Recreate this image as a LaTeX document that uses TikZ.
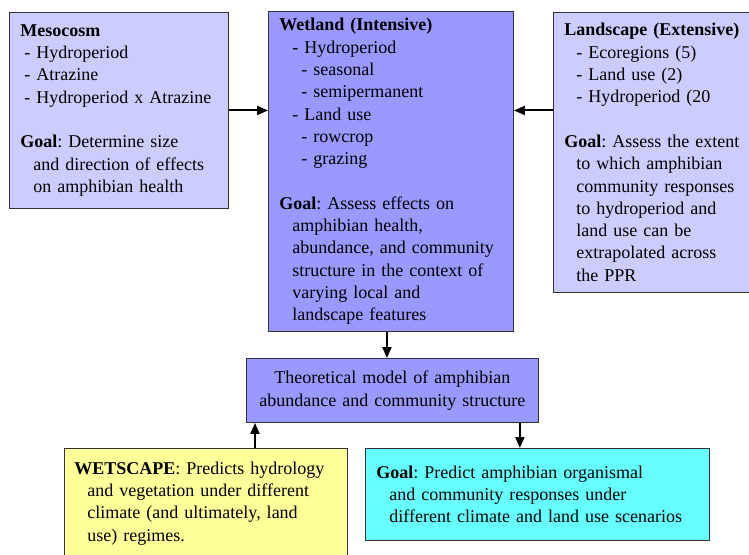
\documentclass[tikz,border=0pt]{standalone}
\usepackage{fontspec}
\setmainfont{Liberation Serif}
\usetikzlibrary{arrows.meta}
\definecolor{paleblue}{HTML}{CCCCFF}
\definecolor{midblue}{HTML}{9999FF}
\definecolor{paleyellow}{HTML}{FFFF99}
\definecolor{brightcyan}{HTML}{66FFFF}
\tikzset{
    box/.style={draw=black!80, line width=0.9pt, align=left, inner xsep=11pt, inner ysep=0pt,
        anchor=north west, font=\fontsize{18}{22.3}\selectfont\frenchspacing},
    link/.style={line width=2pt, -{Triangle[length=11pt,width=9pt]}}
}

\begin{document}
\begin{tikzpicture}[x=1pt, y=-1pt]
    \useasboundingbox (0,0) rectangle (749,554);
    \node[box, fill=paleblue, text width=197pt, minimum height=196pt] (meso) at (9,12) {
        \textbf{Mesocosm}\\
        \hspace*{4pt}- Hydroperiod\\
        \hspace*{4pt}- Atrazine\\
        \hspace*{4pt}- Hydroperiod x Atrazine\\[22.3pt]
        \textbf{Goal}: Determine size\\
        \hspace*{13pt}and direction of effects\\
        \hspace*{13pt}on amphibian health};
    \node[box, fill=midblue, text width=223pt, minimum height=320pt] (wet) at (268,11) {
        \textbf{Wetland (Intensive)}\\
        \hspace*{13pt}- Hydroperiod\\
        \hspace*{22pt}- seasonal\\
        \hspace*{22pt}- semipermanent\\
        \hspace*{13pt}- Land use\\
        \hspace*{22pt}- rowcrop\\
        \hspace*{22pt}- grazing\\[22.3pt]
        \textbf{Goal}: Assess effects on\\
        \hspace*{13pt}amphibian health,\\
        \hspace*{13pt}abundance, and community\\
        \hspace*{13pt}structure in the context of\\
        \hspace*{13pt}varying local and\\
        \hspace*{13pt}landscape features};
    \node[box, fill=paleblue, text width=185pt, minimum height=280pt] (land) at (553,12) {
        \textbf{Landscape (Extensive)}\\
        \hspace*{12pt}- Ecoregions (5)\\
        \hspace*{12pt}- Land use (2)\\
        \hspace*{12pt}- Hydroperiod (20\\[22.3pt]
        \textbf{Goal}: Assess the extent\\
        \hspace*{12pt}to which amphibian\\
        \hspace*{12pt}community responses\\
        \hspace*{12pt}to hydroperiod and\\
        \hspace*{12pt}land use can be\\
        \hspace*{12pt}extrapolated across\\
        \hspace*{12pt}the PPR};
    \node[box, fill=midblue, align=center, inner xsep=4pt, text width=284pt, minimum height=64pt] (theo) at (246,358) {
        Theoretical model of amphibian\\
        abundance and community structure};
    \node[box, fill=paleyellow, inner xsep=10pt, text width=263pt, minimum height=110pt] (wets) at (64,448) {
        \textbf{WETSCAPE}: Predicts hydrology\\
        \hspace*{13pt}and vegetation under different\\
        \hspace*{13pt}climate (and ultimately, land\\
        \hspace*{13pt}use) regimes.};
    \node[box, fill=brightcyan, text width=322pt, minimum height=92pt] (goal) at (365,448) {
        \textbf{Goal}: Predict amphibian organismal\\
        \hspace*{13pt}and community responses under\\
        \hspace*{13pt}different climate and land use scenarios};

    \draw[link] (meso.east) -- (meso.east -| wet.west);
    \draw[link] (meso.east -| land.west) -- (meso.east -| wet.east);
    \draw[link] ([xshift=-4pt]wet.south) -- ([xshift=-4pt]wet.south |- theo.north);
    \draw[link] ([xshift=9pt]theo.south west |- wets.north) -- ([xshift=9pt]theo.south west);
    \draw[link] ([xshift=-19pt]theo.south east) -- ([xshift=-19pt]theo.south east |- goal.north);
\end{tikzpicture}
\end{document}
